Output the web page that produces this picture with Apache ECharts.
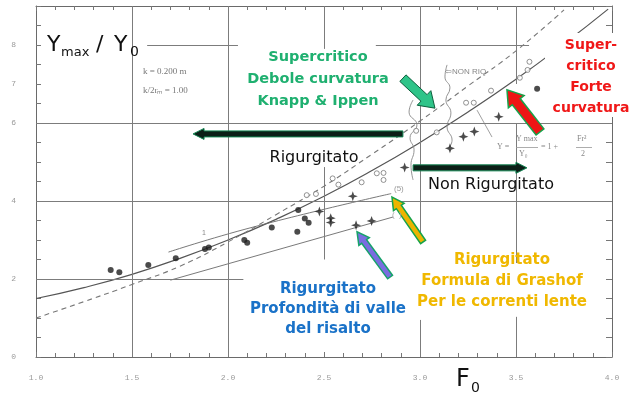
<!DOCTYPE html>
<html><head><meta charset="utf-8">
<script src="https://cdn.jsdelivr.net/npm/echarts@6/dist/echarts.min.js"></script>
<style>html,body{margin:0;padding:0;background:#fff}#c{width:633px;height:398px}</style>
</head><body><div id="c"></div>
<script>
// ---------- data ----------
const xTickLabels = ['1.0','1.5','2.0','2.5','3.0','3.5','4.0'];
const yTickLabels = [0, 2, 4, 6, 7, 8];

// solid curve (Knapp & Ippen, y = 1 + F^2/2)
const knappF = [1.0, 1.25, 1.5, 1.75, 2.0, 2.25, 2.5, 2.75, 3.0, 3.25, 3.5, 3.75, 3.98];
const knappY = [1.5, 1.78, 2.12, 2.53, 3.0, 3.53, 4.12, 4.78, 5.5, 6.28, 7.12, 8.03, 8.92];
// dashed curve
const dashF = [1.0, 1.25, 1.5, 1.75, 2.0, 2.25, 2.5, 2.75, 3.0, 3.25, 3.5, 3.75];
const dashY = [1.0, 1.42, 1.86, 2.33, 2.95, 3.65, 4.38, 5.2, 6.05, 6.95, 7.85, 8.9];
// Grashof line (1 .. (5))
const grashofF = [1.69, 2.13, 2.85];
const grashofY = [2.69, 3.33, 4.19];
// downstream depth line
const valleF = [1.70, 2.86];
const valleY = [1.97, 3.59];

// filled round points
const dotF = [1.389, 1.434, 1.585, 1.728, 1.88, 1.90, 2.085, 2.10, 2.228, 2.361, 2.366, 2.40, 2.42, 3.61];
const dotY = [2.23, 2.17, 2.36, 2.53, 2.77, 2.81, 3.00, 2.93, 3.32, 3.21, 3.77, 3.55, 3.44, 6.88];
// filled star points
const starF = [2.476, 2.535, 2.535, 2.65, 2.667, 2.748, 2.92, 3.156, 3.226, 3.283, 3.41];
const starY = [3.73, 3.56, 3.45, 4.12, 3.38, 3.49, 4.86, 5.35, 5.65, 5.78, 6.16];
// open circles
const openF = [2.41, 2.458, 2.545, 2.575, 2.696, 2.775, 2.81, 2.81, 2.98, 3.087, 3.24, 3.28, 3.37, 3.52, 3.56, 3.57];
const openY = [4.15, 4.18, 4.58, 4.42, 4.48, 4.71, 4.72, 4.54, 5.80, 5.76, 6.52, 6.52, 6.83, 7.16, 7.36, 7.57];

// wavy boundary lines
const waveAF = [2.964, 2.943, 2.984, 2.948, 2.969, 2.953, 2.964];
const waveAY = [6.59, 6.28, 5.95, 5.62, 5.31, 4.92, 4.54];
const waveBF = [3.141, 3.130, 3.156, 3.135, 3.161, 3.141, 3.167, 3.151];
const waveBY = [7.49, 7.18, 6.90, 6.59, 6.26, 5.90, 5.56, 5.36];
const pointerF = [3.297, 3.375];
const pointerY = [6.33, 5.64];

// annotation arrows [fromF, fromY, toF, toY]
const arrowRig = [2.911, 5.72, 1.818, 5.72];
const arrowNonRig = [2.964, 4.85, 3.557, 4.85];
const arrowGreen = [2.911, 7.15, 3.078, 6.38];
const arrowRed = [3.625, 5.77, 3.453, 6.85];
const arrowYellow = [3.016, 2.95, 2.854, 4.10];
const arrowBlue = [2.844, 2.05, 2.672, 3.21];

// grid segments
const vGrid = [[1.5, 0, 9], [2.0, 0, 9], [2.5, 7.9, 9], [2.5, 2.5, 4.87], [3.0, 3.0, 9], [3.0, 0, 0.95],
               [3.5, 7.0, 9], [3.5, 2.41, 6.0], [3.5, 0, 1.03]];
const hGrid = [[8, 1.579, 2.052], [8, 2.77, 3.568], [6, 1, 4], [4, 1, 4], [2, 1, 2.08]];

// ---------- build ----------
const zip = (a, b) => a.map((v, i) => [v, b[i]]);
const arrowStyles = [
  {fill: '#0c1f17', stroke: '#138552', w: 6, hw: 11, hl: 11, lw: 1},
  {fill: '#0c1f17', stroke: '#138552', w: 6, hw: 11, hl: 11, lw: 1},
  {fill: '#2fc489', stroke: '#0d5f3d', w: 9, hw: 20, hl: 15, lw: 1},
  {fill: '#ee1515', stroke: '#16a34a', w: 10, hw: 20, hl: 15, lw: 1.5},
  {fill: '#ecb400', stroke: '#16a34a', w: 6, hw: 13, hl: 12, lw: 1.5},
  {fill: '#7a6de0', stroke: '#16a36a', w: 6, hw: 13, hl: 12, lw: 1.5}
];
const arrows = [arrowRig, arrowNonRig, arrowGreen, arrowRed, arrowYellow, arrowBlue].map((a, i) => a.concat([i]));

const gridLines = vGrid.map(g => [{coord: [g[0], g[1]]}, {coord: [g[0], g[2]]}])
  .concat(hGrid.map(g => [{coord: [g[1], g[0]]}, {coord: [g[2], g[0]]}]));

const starPath = 'path://M0,-10 L2.6,-2.6 L10,0 L2.6,2.6 L0,10 L-2.6,2.6 L-10,0 L-2.6,-2.6 Z';
const lineCol = '#6a6a6a';
const FONT = '"DejaVu Sans"';

const chart = echarts.init(document.getElementById('c'), null, {renderer: 'canvas'});
const axisCommon = {
  axisLine: {show: true, onZero: false, lineStyle: {color: '#6a6a6a', width: 1}},
  splitLine: {show: false}
};
chart.setOption({
  animation: false,
  backgroundColor: '#fff',
  grid: {left: 36, right: 21, top: 6, bottom: 41},
  xAxis: [
    Object.assign({type: 'value', min: 1, max: 4, interval: 0.5, position: 'bottom',
      axisTick: {show: true, inside: true, length: 5, lineStyle: {color: '#777'}},
      minorTick: {show: true, splitNumber: 5, length: 4, lineStyle: {color: '#777'}},
      axisLabel: {show: true, margin: 17, fontSize: 8, color: '#9a9a9a', fontFamily: 'Liberation Mono',
        formatter: v => { const s = v.toFixed(1); return xTickLabels.includes(s) ? s : ''; }}
    }, axisCommon),
    Object.assign({type: 'value', min: 1, max: 4, interval: 0.5, position: 'top',
      axisTick: {show: true, inside: true, length: 5, lineStyle: {color: '#777'}},
      minorTick: {show: true, splitNumber: 5, length: 4, lineStyle: {color: '#777'}},
      axisLabel: {show: false}
    }, axisCommon)
  ],
  yAxis: [
    Object.assign({type: 'value', min: 0, max: 9, interval: 1, position: 'left',
      axisTick: {show: true, inside: true, length: 5, lineStyle: {color: '#777'}},
      minorTick: {show: true, splitNumber: 2, length: 5, lineStyle: {color: '#777'}},
      axisLabel: {show: true, margin: 20, fontSize: 8, color: '#9a9a9a', fontFamily: 'Liberation Mono',
        formatter: v => yTickLabels.includes(v) ? String(v) : ''}
    }, axisCommon),
    Object.assign({type: 'value', min: 0, max: 9, interval: 1, position: 'right',
      axisTick: {show: true, inside: true, length: 6, lineStyle: {color: '#777'}},
      minorTick: {show: true, splitNumber: 2, length: 6, lineStyle: {color: '#777'}},
      axisLabel: {show: false}
    }, axisCommon)
  ],
  series: [
    {type: 'scatter', name: 'grid', data: [[1, 0]], symbolSize: 0, silent: true, z: 1,
      markLine: {silent: true, symbol: 'none', animation: false, label: {show: false},
        lineStyle: {color: '#7c7c7c', width: 1, type: 'solid'}, data: gridLines}},
    {type: 'line', name: 'Knapp & Ippen', data: zip(knappF, knappY), smooth: true, showSymbol: false,
      lineStyle: {color: '#555', width: 1.2}, z: 3},
    {type: 'line', name: 'tratteggio', data: zip(dashF, dashY), smooth: true, showSymbol: false,
      lineStyle: {color: '#777', width: 1.1, type: [5, 4]}, z: 3},
    {type: 'line', name: 'Grashof', data: zip(grashofF, grashofY), smooth: true, showSymbol: false,
      lineStyle: {color: lineCol, width: 0.9}, z: 3},
    {type: 'line', name: 'valle', data: zip(valleF, valleY), showSymbol: false,
      lineStyle: {color: lineCol, width: 0.9}, z: 3},
    {type: 'line', name: 'waveA', data: zip(waveAF, waveAY), smooth: true, showSymbol: false,
      lineStyle: {color: '#888', width: 0.9}, z: 3},
    {type: 'line', name: 'waveB', data: zip(waveBF, waveBY), smooth: true, showSymbol: false,
      lineStyle: {color: '#888', width: 0.9}, z: 3},
    {type: 'line', name: 'pointer', data: zip(pointerF, pointerY), showSymbol: false,
      lineStyle: {color: '#888', width: 0.8}, z: 3},
    {type: 'scatter', name: 'dots', data: zip(dotF, dotY), symbol: 'circle', symbolSize: 6,
      itemStyle: {color: '#1e1e1e'}, z: 4},
    {type: 'scatter', name: 'stars', data: zip(starF, starY), symbol: starPath, symbolSize: 10,
      itemStyle: {color: '#1e1e1e'}, z: 4},
    {type: 'scatter', name: 'open', data: zip(openF, openY), symbol: 'circle', symbolSize: 5,
      itemStyle: {color: '#fff', borderColor: '#777', borderWidth: 1}, z: 4},
    {type: 'custom', name: 'arrows', data: arrows, encode: {x: [0, 2], y: [1, 3]}, z: 6, clip: false,
      renderItem: function (params, api) {
        const p1 = api.coord([api.value(0), api.value(1)]);
        const p2 = api.coord([api.value(2), api.value(3)]);
        const s = arrowStyles[api.value(4)];
        const dx = p2[0] - p1[0], dy = p2[1] - p1[1];
        const L = Math.sqrt(dx * dx + dy * dy);
        const ux = dx / L, uy = dy / L, nx = -uy, ny = ux;
        const bx = p2[0] - ux * s.hl, by = p2[1] - uy * s.hl;
        const pts = [
          [p1[0] + nx * s.w / 2, p1[1] + ny * s.w / 2],
          [bx + nx * s.w / 2, by + ny * s.w / 2],
          [bx + nx * s.hw / 2, by + ny * s.hw / 2],
          [p2[0], p2[1]],
          [bx - nx * s.hw / 2, by - ny * s.hw / 2],
          [bx - nx * s.w / 2, by - ny * s.w / 2],
          [p1[0] - nx * s.w / 2, p1[1] - ny * s.w / 2]
        ];
        return {type: 'polygon', shape: {points: pts}, style: {fill: s.fill, stroke: s.stroke, lineWidth: s.lw}};
      }}
  ],
  graphic: [
    // red text box (white background hides part of the frame)
    {type: 'rect', left: 545, top: 33, shape: {width: 88, height: 84}, style: {fill: '#fff'}, z: 50},
    {type: 'text', left: 47, top: 34, z: 60, style: {text: 'Y', font: '22px ' + FONT, fill: '#111'}},
    {type: 'text', left: 61, top: 46, z: 60, style: {text: 'max', font: '13px ' + FONT, fill: '#111'}},
    {type: 'text', left: 96, top: 34, z: 60, style: {text: '/', font: '22px ' + FONT, fill: '#111'}},
    {type: 'text', left: 114, top: 34, z: 60, style: {text: 'Y', font: '22px ' + FONT, fill: '#111'}},
    {type: 'text', left: 130, top: 45, z: 60, style: {text: '0', font: '14px ' + FONT, fill: '#111'}},
    {type: 'text', left: 456, top: 368, z: 60, style: {text: 'F', font: '24px ' + FONT, fill: '#111'}},
    {type: 'text', left: 471, top: 381, z: 60, style: {text: '0', font: '14px ' + FONT, fill: '#111'}},
    {type: 'text', left: 143, top: 67, z: 60, style: {text: 'k = 0.200 m', font: '9px "Liberation Serif"', fill: '#777'}},
    {type: 'text', left: 143, top: 86, z: 60, style: {text: 'k/2r\u2098 = 1.00', font: '9px "Liberation Serif"', fill: '#777'}},
    {type: 'text', x: 318, y: 46, z: 60, style: {text: 'Supercritico\nDebole curvatura\nKnapp & Ippen', align: 'center',
      font: 'bold 14.5px ' + FONT, lineHeight: 22, fill: '#1fb070'}},
    {type: 'text', x: 591, y: 35, z: 60, style: {text: 'Super-\ncritico\nForte\ncurvatura', align: 'center',
      font: 'bold 14px ' + FONT, lineHeight: 21, fill: '#f01818'}},
    {type: 'text', x: 314, y: 150, z: 60, style: {text: 'Rigurgitato', align: 'center', font: '16px ' + FONT, fill: '#111'}},
    {type: 'text', x: 491, y: 177, z: 60, style: {text: 'Non Rigurgitato', align: 'center', font: '16px ' + FONT, fill: '#111'}},
    {type: 'text', x: 328, y: 279, z: 60, style: {text: 'Rigurgitato\nProfondità di valle\ndel risalto', align: 'center',
      font: 'bold 15px ' + FONT, lineHeight: 20, fill: '#1a72c8'}},
    {type: 'text', x: 502, y: 250, z: 60, style: {text: 'Rigurgitato\nFormula di Grashof\nPer le correnti lente', align: 'center',
      font: 'bold 15px ' + FONT, lineHeight: 21, fill: '#f0b800'}},
    {type: 'text', left: 445, top: 68, z: 60, style: {text: '\u21E6NON RIQ', font: '8px "Liberation Sans"', fill: '#888'}},
    {type: 'text', left: 394, top: 185, z: 60, style: {text: '(5)', font: '8px "Liberation Sans"', fill: '#999'}},
    {type: 'text', left: 392, top: 211, z: 60, style: {text: '(  )', font: '8px "Liberation Sans"', fill: '#aaa'}},
    {type: 'text', left: 202, top: 230, z: 60, style: {text: '1', font: '7px "Liberation Sans"', fill: '#888'}},
    // formula
    {type: 'text', left: 497, top: 143, z: 60, style: {text: 'Y =', font: '8px "Liberation Serif"', fill: '#888'}},
    {type: 'text', left: 516, top: 135, z: 60, style: {text: 'Y max', font: '8px "Liberation Serif"', fill: '#888'}},
    {type: 'rect', left: 516, top: 147, z: 60, shape: {width: 22, height: 0.8}, style: {fill: '#999'}},
    {type: 'text', left: 519, top: 150, z: 60, style: {text: 'Y\u2080', font: '8px "Liberation Serif"', fill: '#888'}},
    {type: 'text', left: 541, top: 143, z: 60, style: {text: '= 1 +', font: '8px "Liberation Serif"', fill: '#888'}},
    {type: 'text', left: 577, top: 135, z: 60, style: {text: 'Fr\u00B2', font: '8px "Liberation Serif"', fill: '#888'}},
    {type: 'rect', left: 576, top: 147, z: 60, shape: {width: 16, height: 0.8}, style: {fill: '#999'}},
    {type: 'text', left: 581, top: 150, z: 60, style: {text: '2', font: '8px "Liberation Serif"', fill: '#888'}}
  ]
});
</script></body></html>
